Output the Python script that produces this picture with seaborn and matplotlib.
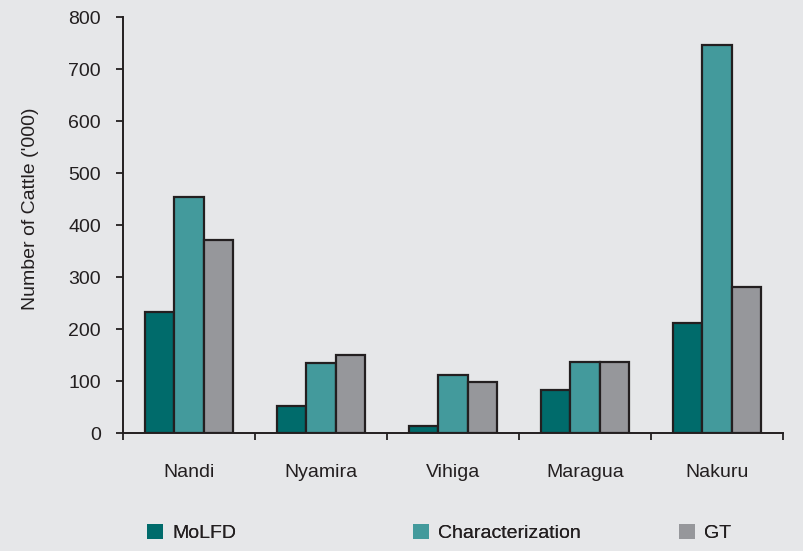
import numpy as np
import pandas as pd
import seaborn as sns
import matplotlib.pyplot as plt
import matplotlib.patches as mpatches

districts = ["Nandi", "Nyamira", "Vihiga", "Maragua", "Nakuru"]
sources = ["MoLFD", "Characterization", "GT"]
molfd = [233, 52, 14, 82, 212]
characterization = [454, 134, 112, 137, 747]
gt = [371, 150, 98, 137, 281]
colors = ["#006B6B", "#439A9C", "#96979B"]
bg = "#E6E7E9"
ink = "#231F20"

df = pd.DataFrame({
    "district": districts * 3,
    "source": [s for s in sources for _ in districts],
    "cattle": molfd + characterization + gt,
})

sns.set_theme(style="white")
plt.rcParams["font.family"] = ["Liberation Sans Narrow", "Liberation Sans", "DejaVu Sans"]
plt.rcParams["text.color"] = ink

fig = plt.figure(figsize=(8.04, 5.51), dpi=100, facecolor=bg)
ax = fig.add_axes([123 / 804, 118 / 551, 660 / 804, 416 / 551])
ax.set_facecolor(bg)

sns.barplot(data=df, x="district", y="cattle", hue="source", order=districts,
            hue_order=sources, palette=colors, saturation=1, width=0.67, gap=0,
            edgecolor=ink, linewidth=1.6, legend=False, ax=ax)

ax.set_xlim(-0.5, 4.5)
ax.set_ylim(0, 800)
ax.set_yticks(np.arange(0, 801, 100))
ax.set_xticks(np.arange(-0.5, 5, 1))
ax.set_xticklabels([])
ax.set_xticks(range(5), minor=True)
ax.set_xticklabels(districts, minor=True)
ax.tick_params(axis="x", which="major", direction="out", length=5, width=1.3, color=ink, bottom=True)
ax.tick_params(axis="x", which="minor", length=0, pad=22, labelsize=14, labelcolor=ink, bottom=True)
ax.tick_params(axis="y", direction="out", length=5, width=1.3, color=ink, pad=11,
               labelsize=14, labelcolor=ink, left=True)

for side in ["top", "right"]:
    ax.spines[side].set_visible(False)
for side in ["left", "bottom"]:
    ax.spines[side].set_color(ink)
    ax.spines[side].set_linewidth(1.4)

ax.set_xlabel("")
ax.set_ylabel("Number of Cattle ('000)", fontsize=14, color=ink)
ax.yaxis.set_label_coords(-0.128, 0.54)

# one legend entry per source, spread along the bottom
legend_x = [147, 413, 679]
for src, col, lx in zip(sources, colors, legend_x):
    handle = mpatches.Patch(facecolor=col, edgecolor="none", label=src)
    leg = fig.legend(handles=[handle], loc="center left", bbox_to_anchor=(lx / 804, 1 - 533 / 551),
                     frameon=False, fontsize=14, handlelength=0.8, handleheight=0.8,
                     handletextpad=0.5, borderpad=0, borderaxespad=0)
    fig.add_artist(leg)

plt.savefig("out.png", dpi=100, facecolor=bg)
